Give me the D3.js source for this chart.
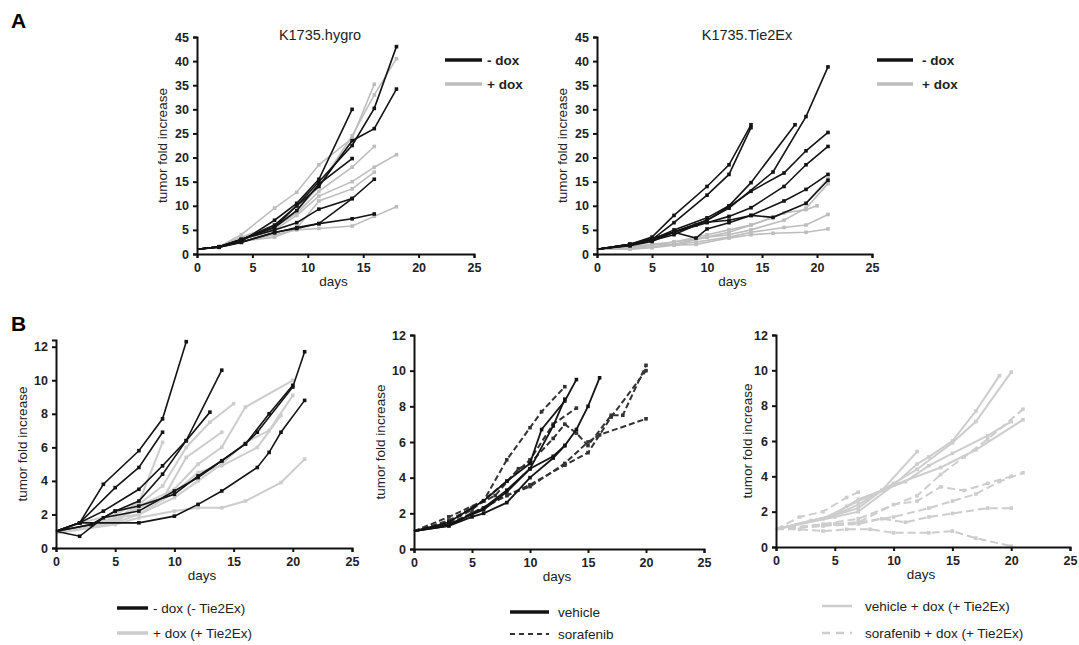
<!DOCTYPE html>
<html>
<head>
<meta charset="utf-8">
<script src="https://cdn.jsdelivr.net/npm/d3@7"></script>
<style>
  body { margin: 0; background: #fff; }
  svg { font-family: "Liberation Sans", Arial, sans-serif; }
  .axis path, .axis line { stroke: #111; stroke-width: 2px; }
  .axis text { font-size: 12.5px; font-weight: bold; fill: #222; }
</style>
</head>
<body>
<script>
// ---- data: [day, fold increase] per tumour ----
var hygroMinus = [
  [[0,1],[2,1.5],[4,2.6],[7,7],[9,10.5],[11,15.5],[14,30]],
  [[0,1],[2,1.5],[4,3],[7,6],[9,10],[11,15],[14,22.5],[16,30.2],[18,43]],
  [[0,1],[2,1.5],[4,3],[7,5.6],[9,10],[11,14],[14,23.5],[16,26],[18,34.2]],
  [[0,1],[2,1.5],[4,3],[7,5.5],[9,9],[11,14.5],[14,19.8]],
  [[0,1],[2,1.5],[4,3],[7,5],[9,6.5],[11,9.3],[14,11.5],[16,15.5]],
  [[0,1],[2,1.4],[4,2.4],[7,4.5],[9,5.3],[11,6.3],[14,11.5]],
  [[0,1],[2,1.4],[4,2.5],[7,4.4],[9,5.5],[11,6.3],[14,7.3],[16,8.3]]
];
var hygroPlus = [
  [[0,1],[2,1.5],[4,4],[7,9.5],[9,12.8],[11,18.5],[14,24],[16,35.2]],
  [[0,1],[2,1.5],[4,3.5],[7,6],[9,9],[11,14],[14,24.5],[16,33],[18,40.5]],
  [[0,1],[2,1.5],[4,3],[7,5],[9,8],[11,12],[14,15],[16,18],[18,20.6]],
  [[0,1],[2,1.5],[4,3],[7,5.5],[9,8.5],[11,13],[14,18],[16,22.3]],
  [[0,1],[2,1.4],[4,2.6],[7,3.5],[9,5.3],[11,11],[14,13.5],[16,17]],
  [[0,1],[2,1.4],[4,2.5],[7,4],[9,5],[11,5.3],[14,5.8],[16,7.8],[18,9.8]]
];
var tie2Minus = [
  [[0,1],[3,2],[5,3.5],[7,8],[10,14],[12,18.5],[14,26.8]],
  [[0,1],[3,2],[5,3],[7,6.5],[10,12.2],[12,16.5],[14,26.2]],
  [[0,1],[3,2],[5,3],[7,5],[10,7.5],[12,10],[14,14.8],[18,26.8]],
  [[0,1],[3,1.8],[5,3],[7,4.5],[10,7],[12,9.5],[16,17],[19,28.5],[21,38.8]],
  [[0,1],[3,2],[5,3.2],[7,4.6],[10,7],[12,9.8],[14,13],[17,16.8],[19,21.4],[21,25.2]],
  [[0,1],[3,1.8],[5,3],[7,4.5],[10,6.5],[12,7.8],[14,9.6],[17,14],[19,18.5],[21,22.3]],
  [[0,1],[3,1.8],[5,2.8],[7,4],[9,6],[10,6.6],[12,7],[14,8],[17,11],[19,13.4],[21,16.5]],
  [[0,1],[3,1.7],[5,2.6],[7,4.5],[9,3.3],[10,5.2],[12,6.5],[14,8],[16,7.6],[19,10.5],[21,15.3]]
];
var tie2Plus = [
  [[0,1],[3,1.5],[5,2],[7,2.5],[10,4],[12,5],[14,6],[16,7.5],[19,10.5],[21,15.6]],
  [[0,1],[3,1.2],[5,2],[7,2],[10,3.5],[12,4],[14,5],[17,7],[19,9.5],[21,14.6]],
  [[0,1],[3,1.2],[5,1.8],[7,2.5],[10,3.5],[12,4.5],[14,6],[17,8.5],[19,9.2],[20,10]],
  [[0,1],[3,1],[5,1.5],[7,2],[9,2.5],[12,3.5],[14,4.5],[17,5.5],[19,6],[21,8.2]],
  [[0,1],[3,1],[5,1.3],[7,1.8],[9,2],[12,3.3],[14,4],[16,4.3],[19,4.5],[21,5.2]]
];
var bMinus = [
  [[0,1],[2,1.5],[4,3.8],[7,5.8],[9,7.7],[11,12.3]],
  [[0,1],[2,1.5],[5,3.6],[7,4.8],[9,6.9]],
  [[0,1],[2,1.5],[4,2.2],[7,3.5],[9,4.9],[11,6.4],[14,10.6]],
  [[0,1],[3,1.4],[5,2.2],[7,2.8],[9,4.4],[11,6.4],[13,8.1]],
  [[0,1],[3,1.4],[5,2.2],[7,2.5],[10,3.2],[12,4.3],[14,5.2],[16,6.2],[17,6.9],[20,9.6],[21,11.7]],
  [[0,1],[2,0.7],[4,1.8],[7,2.2],[10,3.4],[12,4.2],[14,5.2],[16,6.2],[18,8],[20,9.7]],
  [[0,1],[2,1.5],[7,1.5],[10,1.9],[12,2.6],[14,3.4],[17,4.8],[18,5.7],[19,6.9],[21,8.8]]
];
var bPlus = [
  [[0,0.9],[2,1.5],[5,2],[7,2.7],[9,6.3]],
  [[0,0.9],[3,1.3],[5,1.7],[7,2.6],[9,3.7],[11,6],[13,7.5],[15,8.6]],
  [[0,0.9],[5,1.5],[7,2.5],[10,3.5],[12,5],[14,6],[16,8.4],[20,10]],
  [[0,0.9],[5,1.8],[7,2],[10,3],[12,4],[14,5],[16,6.3],[18,7],[20,9.1]],
  [[0,0.9],[5,1.5],[7,2],[10,3.3],[12,4.5],[14,4.9],[17,6],[19,7.9]],
  [[0,0.9],[5,1.6],[7,2.4],[9,2.9],[11,5.4],[14,6.9]],
  [[0,0.9],[5,1.4],[7,1.8],[10,2.2],[12,2.4],[14,2.4],[16,2.8],[19,3.9],[21,5.3]]
];
var vehicle = [
  [[0,1],[3,1.5],[6,2.7],[8,3.8],[10,4.8],[11,6.7],[13,8.3],[14,9.5]],
  [[0,1],[3,1.3],[6,2.3],[8,3.3],[10,4.5],[12,6.9],[13,8.4]],
  [[0,1],[3,1.3],[5,1.8],[6,2],[8,2.6],[10,4],[12,5.1],[13,5.8],[14,6.7],[15,8],[16,9.6]],
  [[0,1],[3,1.4],[6,2.2],[8,3.2],[10,4.5],[12,5.2],[13,5.8]]
];
var sorafenib = [
  [[0,1],[3,1.8],[6,2.7],[8,5],[10,6.8],[11,7.7],[13,9.1]],
  [[0,1],[3,1.6],[5,2.3],[7,3],[9,4.5],[10,4.8],[12,6.2],[13,7],[14,6.5],[15,5.8],[17,7.5],[18,7.5],[20,10.3]],
  [[0,1],[3,1.5],[5,2.2],[8,3.8],[10,5],[12,7],[14,7.9]],
  [[0,1],[3,1.4],[5,2],[8,3],[10,3.6],[13,4.7],[15,5.4],[17,7.4],[20,10]],
  [[0,1],[3,1.4],[5,2],[8,3],[10,3.5],[13,4.8],[15,6],[16,6.4],[20,7.3]]
];
var vehicleDox = [
  [[0,1],[3,1.5],[5,1.8],[6,2.3],[7,2.7],[9,3.2],[12,5.4]],
  [[0,1],[4,1.6],[7,2.6],[10,3.5],[12,4.7],[13,5.1],[15,6],[17,7.7],[19,9.7]],
  [[0,1],[5,1.8],[7,2.4],[10,3.6],[12,4.4],[15,5.9],[17,7.1],[20,9.9]],
  [[0,1],[5,1.8],[7,2.2],[9,3.2],[11,3.7],[13,4.6],[15,5.3],[18,6.3],[20,7.1]],
  [[0,1],[5,1.7],[7,2],[10,3.5],[14,4.5],[17,5.5],[21,7.2]]
];
var sorafenibDox = [
  [[0,1],[2,1.7],[4,2],[6,2.8],[7,3.1]],
  [[0,1],[4,1.3],[7,1.6],[12,2.9],[14,4.1],[16,5.1],[18,6.1],[21,7.8]],
  [[0,1],[4,1.2],[7,1.4],[10,1.7],[13,2.2],[15,2.6],[17,3],[19,3.7],[21,4.2]],
  [[0,1],[4,1.2],[7,1.3],[9,1.6],[11,1.4],[13,1.7],[15,1.9],[18,2.2],[20,2.2]],
  [[0,1],[2,1],[4,0.9],[6,1],[8,1],[10,0.8],[13,0.8],[15,0.9],[17,0.5],[20,0.05]],
  [[0,1],[5,1.3],[7,1.4],[10,2.4],[12,2.6],[14,3.4],[16,3.2],[18,3.6],[20,4]]
];
var ticksA = [0,5,10,15,20,25,30,35,40,45];
var ticksB = [0,2,4,6,8,10,12];
var ticksX = [0,5,10,15,20,25];

var BLACK = "#141414", GRAY = "#bdbdbd", LIGHT = "#cdcdcd";

var svg = d3.select("body").append("svg").attr("width", 1079).attr("height", 645);

function drawPanel(p) {
  var x = d3.scaleLinear().domain([0, 25]).range([p.x0, p.x1]);
  var y = d3.scaleLinear().domain([0, p.ymax]).range([p.y0, p.y1]);
  var g = svg.append("g");
  var line = d3.line().x(function(d) { return x(d[0]); }).y(function(d) { return y(d[1]); });

  p.groups.forEach(function(grp) {
    grp.data.forEach(function(s) {
      g.append("path").attr("d", line(s))
        .attr("fill", "none").attr("stroke", grp.color)
        .attr("stroke-width", grp.width || 1.6)
        .attr("stroke-dasharray", grp.dash || null);
      g.selectAll(null).data(s.slice(1)).enter().append("rect")
        .attr("x", function(d) { return x(d[0]) - 1.8; })
        .attr("y", function(d) { return y(d[1]) - 1.8; })
        .attr("width", 3.6).attr("height", 3.6)
        .attr("fill", grp.color);
    });
  });

  g.append("g").attr("class", "axis")
    .attr("transform", "translate(0," + p.y0 + ")")
    .call(d3.axisBottom(x).tickValues(ticksX).tickSize(4).tickPadding(5));
  g.append("g").attr("class", "axis")
    .attr("transform", "translate(" + p.x0 + ",0)")
    .call(d3.axisLeft(y).tickValues(p.ticks).tickSize(4).tickPadding(4));

  g.append("text").attr("x", (p.x0 + p.x1) / 2 - 2).attr("y", p.y0 + 32)
    .attr("text-anchor", "middle").attr("font-size", 13.5).attr("fill", "#222").text("days");
  g.append("text")
    .attr("transform", "translate(" + p.labelX + "," + (p.y0 + p.y1) / 2 + ") rotate(-90)")
    .attr("text-anchor", "middle").attr("font-size", 13.5).attr("fill", "#222")
    .text("tumor fold increase");
  if (p.title) {
    g.append("text").attr("x", p.titleX).attr("y", 40).attr("text-anchor", "middle")
      .attr("font-size", 14.5).attr("fill", "#222").text(p.title);
  }
  var lg = p.legend;
  lg.items.forEach(function(it, i) {
    var ly = lg.y + i * lg.dy;
    g.append("line").attr("x1", lg.x).attr("x2", lg.x + lg.len).attr("y1", ly).attr("y2", ly)
      .attr("stroke", it.color).attr("stroke-width", it.width || 3.5)
      .attr("stroke-dasharray", it.dash || null);
    g.append("text").attr("x", lg.x + lg.len + lg.gap).attr("y", ly + 5)
      .attr("font-size", 13.5).attr("font-weight", lg.bold ? "bold" : "normal")
      .attr("fill", "#222").text(it.label);
  });
}

drawPanel({
  x0: 197, x1: 474, y0: 254, y1: 37, ymax: 45, ticks: ticksA, labelX: 167,
  title: "K1735.hygro", titleX: 320,
  groups: [{ data: hygroPlus, color: GRAY }, { data: hygroMinus, color: BLACK }],
  legend: { x: 445, y: 60, dy: 24, len: 37, gap: 5, bold: true,
    items: [{ label: "- dox", color: BLACK }, { label: "+ dox", color: GRAY }] }
});
drawPanel({
  x0: 597, x1: 872, y0: 254, y1: 37, ymax: 45, ticks: ticksA, labelX: 567,
  title: "K1735.Tie2Ex", titleX: 747,
  groups: [{ data: tie2Plus, color: GRAY }, { data: tie2Minus, color: BLACK }],
  legend: { x: 877, y: 60, dy: 24, len: 36, gap: 9, bold: true,
    items: [{ label: "- dox", color: BLACK }, { label: "+ dox", color: GRAY }] }
});
drawPanel({
  x0: 56, x1: 352, y0: 548, y1: 340, ymax: 12.4, ticks: ticksB, labelX: 27,
  groups: [{ data: bPlus, color: LIGHT, width: 2 }, { data: bMinus, color: BLACK }],
  legend: { x: 117, y: 608, dy: 25, len: 31, gap: 5, bold: false,
    items: [{ label: "- dox (- Tie2Ex)", color: BLACK }, { label: "+ dox (+ Tie2Ex)", color: LIGHT }] }
});
drawPanel({
  x0: 414, x1: 704, y0: 549, y1: 335, ymax: 12, ticks: ticksB, labelX: 385,
  groups: [{ data: sorafenib, color: "#333", width: 2, dash: "6,3" }, { data: vehicle, color: BLACK, width: 1.8 }],
  legend: { x: 510, y: 612, dy: 22, len: 39, gap: 9, bold: false,
    items: [{ label: "vehicle", color: BLACK }, { label: "sorafenib", color: "#333", width: 2, dash: "5,4" }] }
});
drawPanel({
  x0: 776, x1: 1070, y0: 547, y1: 335, ymax: 12, ticks: ticksB, labelX: 752,
  groups: [{ data: sorafenibDox, color: LIGHT, width: 2, dash: "8,4" }, { data: vehicleDox, color: LIGHT, width: 2 }],
  legend: { x: 822, y: 606, dy: 27, len: 30, gap: 13, bold: false,
    items: [{ label: "vehicle + dox (+ Tie2Ex)", color: LIGHT, width: 2.5 }, { label: "sorafenib + dox (+ Tie2Ex)", color: LIGHT, width: 2.5, dash: "8,6" }] }
});

svg.append("text").attr("x", 11).attr("y", 28).attr("font-size", 21).attr("font-weight", "bold").text("A");
svg.append("text").attr("x", 11).attr("y", 331).attr("font-size", 21).attr("font-weight", "bold").text("B");
</script>
</body>
</html>
